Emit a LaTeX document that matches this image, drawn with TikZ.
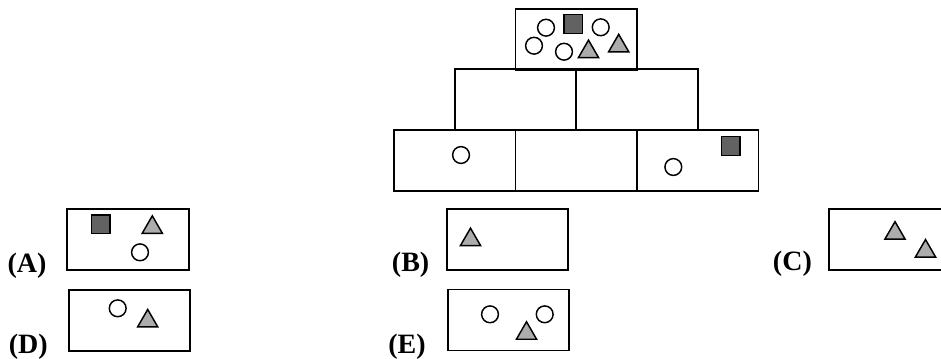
\documentclass[tikz,border=0pt]{standalone}
\usepackage{fontspec}
\setmainfont{Liberation Serif}
\usetikzlibrary{shapes.geometric}
\definecolor{sqgray}{RGB}{98,98,98}
\definecolor{trigray}{RGB}{172,172,172}
\begin{document}
\begin{tikzpicture}[x=0.75pt,y=-0.75pt]
      \tikzstyle{cell} = [draw,line width=1.4pt,rectangle,inner sep=0pt,minimum width=91.1pt,minimum height=45.75pt]
      \tikzstyle{ring} = [draw,circle,line width=1.1pt,fill=white,inner sep=0pt,minimum size=12.6pt]
      \tikzstyle{blk} = [draw,rectangle,line width=1.1pt,fill=sqgray,inner sep=0pt,minimum size=13.9pt]
      \tikzstyle{tri} = [draw,regular polygon,regular polygon sides=3,line width=1.1pt,fill=trigray,inner sep=0pt,minimum size=17.5pt]
      \tikzstyle{lbl} = [anchor=base west,inner sep=0pt,font=\fontsize{21}{25}\selectfont\bfseries]

      \useasboundingbox (0,0) rectangle (941,358);
      \clip (0,0) rectangle (941,358);

      % pyramid
      \node[cell](top) at (576.25,39.3) {};
      \foreach \n/\x in {m1/515.5,m2/637}
        \node[cell](\n) at (\x,99.7) {};
      \foreach \n/\x in {b1/454.75,b2/576.25,b3/697.75}
        \node[cell](\n) at (\x,160.7) {};

      % answer boxes
      \foreach \n/\x/\y in {boxA/127.9/239.5,boxB/507.5/239.5,boxC/889.3/239.5,boxD/129.5/320.2,boxE/508.3/320}
        \node[cell](\n) at (\x,\y) {};

      \node[lbl](A) at (7.3,272) {(A)};
      \node[lbl](B) at (391.7,271.7) {(B)};
      \node[lbl](C) at (772.7,270.5) {(C)};
      \node[lbl](D) at (8.5,353) {(D)};
      \node[lbl](E) at (388,353) {(E)};

      % circles
      \foreach \n/\x/\y in {c1/546/27.7,c2/600.7/27.3,c3/534/45.7,c4/564/51.7,c5/461/155,c6/673.3/167,
        c7/140/252.3,c8/117.7/308.3,c9/490/314.3,c10/544.7/314.3}
        \node[ring](\n) at (\x,\y) {};

      % squares
      \foreach \n/\x/\y in {s1/573.3/24,s2/730.8/146,s3/100.7/224.2}
        \node[blk](\n) at (\x,\y) {};

      % triangles
      \foreach \n/\x/\y in {t1/588.5/51.8,t2/618.7/46,t3/152.3/227.5,t4/147.7/321.1,t5/470.5/239.8,
        t6/526.5/333.4,t7/895/233.3,t8/925.5/251.2}
        \node[tri](\n) at (\x,\y) {};

\end{tikzpicture}
\end{document}
